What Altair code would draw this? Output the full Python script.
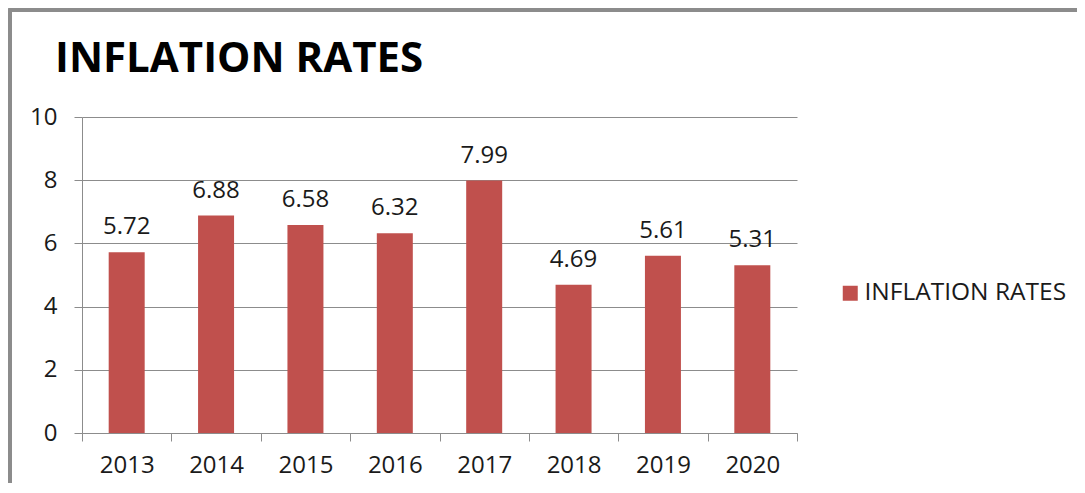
import altair as alt
import pandas as pd

years = ["2013", "2014", "2015", "2016", "2017", "2018", "2019", "2020"]
rates = [5.72, 6.88, 6.58, 6.32, 7.99, 4.69, 5.61, 5.31]
series_name = "INFLATION RATES"
chart_title = "INFLATION RATES"
y_ticks = [0, 2, 4, 6, 8, 10]

df = pd.DataFrame({"year": years, "rate": rates, "series": [series_name] * len(years)})
df["label"] = [f"{v:.2f}" for v in rates]
title_df = pd.DataFrame({"t": [chart_title]})

FONT = "Open Sans"
AXIS_GRAY = "#8c8c8c"
BAR = "#C0504D"

x = alt.X("year:O", title=None, sort=years,
          scale=alt.Scale(paddingInner=0, paddingOuter=0),
          axis=alt.Axis(labelAngle=0, tickBand="extent", tickSize=8, labelPadding=12,
                        labelFontSize=24, labelFont=FONT, labelColor="#1a1a1a",
                        domainColor=AXIS_GRAY, tickColor=AXIS_GRAY, grid=False))
y = alt.Y("rate:Q", title=None,
          scale=alt.Scale(domain=[0, 10], nice=False),
          axis=alt.Axis(values=y_ticks, tickSize=8, labelPadding=17, labelFontSize=24,
                        labelFont=FONT, labelColor="#1a1a1a", domainColor=AXIS_GRAY,
                        tickColor=AXIS_GRAY, gridColor=AXIS_GRAY, grid=True))

bars = alt.Chart(df).mark_bar(width=36, color=BAR).encode(
    x=x, y=y,
    color=alt.Color("series:N", title=None,
                    scale=alt.Scale(domain=[series_name], range=[BAR]),
                    legend=alt.Legend(orient="none", legendX=756, legendY=164,
                                      symbolType="square", symbolSize=225,
                                      symbolStrokeWidth=0, labelFontSize=24.5,
                                      labelFont=FONT, labelColor="#1a1a1a",
                                      labelOffset=2, labelLimit=0, padding=0)),
)

labels = alt.Chart(df).mark_text(baseline="alphabetic", dy=-18, fontSize=24,
                                 font=FONT, color="#1a1a1a").encode(
    x=alt.X("year:O", sort=years), y="rate:Q", text="label:N")

title = alt.Chart(title_df).mark_text(align="left", baseline="alphabetic", fontSize=42,
                                      font=FONT, fontWeight="bold", color="#000000").encode(
    x=alt.value(-27), y=alt.value(-45), text="t:N")

border = alt.Chart(df).mark_rect(fillOpacity=0, stroke="#8c8c8c", strokeWidth=3).encode(
    x=alt.value(-72), x2=alt.value(1200), y=alt.value(-107), y2=alt.value(600))

chart = alt.layer(border, bars, labels, title).properties(
    width=715, height=316,
    autosize=alt.AutoSizeParams(type="none"),
    padding={"left": 74, "top": 109, "right": 280, "bottom": 50},
).configure_view(stroke=None)

chart.save("out.html", embed_options={"renderer": "svg", "actions": False})
